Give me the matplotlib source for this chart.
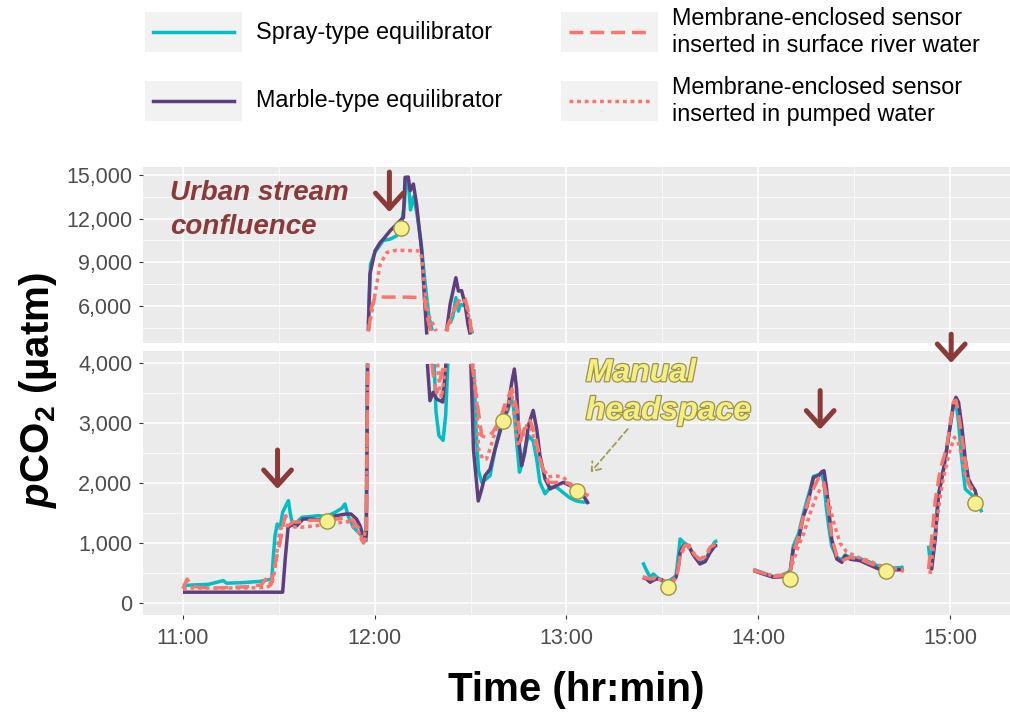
import numpy as np
import matplotlib
matplotlib.use('Agg')
import matplotlib.pyplot as plt
import matplotlib.patheffects as pe
from matplotlib.patches import Rectangle
from matplotlib.lines import Line2D
from matplotlib.ticker import FuncFormatter

plt.rcParams['font.family'] = ['Liberation Sans', 'DejaVu Sans']
plt.rcParams['mathtext.fontset'] = 'custom'
plt.rcParams['mathtext.rm'] = 'Liberation Sans'
plt.rcParams['mathtext.bf'] = 'Liberation Sans:bold'
plt.rcParams['mathtext.it'] = 'Liberation Sans:italic'
plt.rcParams['mathtext.bfit'] = 'Liberation Sans:bold:italic'

nan = np.nan

# time in minutes after 11:00, pCO2 in uatm
spray_t = [0.0, 2.7, 7.9, 12.6, 13.7, 18.9, 24.1, 27.8, 28.3, 28.8, 29.5, 30.4, 31.2, 32.2, 33.0, 33.7,
           34.5, 35.6, 37.2, 39.7, 42.3, 45.0, 47.6, 49.7, 50.7, 51.7, 53.3, 54.9, 56.4, 57.3, 57.7,
           58.0, 58.7, 60.1, 61.7, 62.7, 64.8, 66.8, 68.5, 69.3, 69.8, 70.5, 71.2, 72.1, 73.1, 74.5,
           75.8, 77.0, 78.0, 78.6, 79.2, 80.1, 81.4, 82.2, 82.9, 83.6, 84.5, 85.4, 86.2, 86.8, 88.3,
           89.8, 90.6, 91.0, 91.8, 92.5, 93.5, 94.5, 96.1, 97.7, 99.2, 100.3, 101.8, 102.6, 103.4,
           104.4, 105.3, 106.0, 107.0, 108.1, 109.6, 110.7, 111.7, 113.3, 114.9, 116.9, 119.0, 121.1,
           123.2, 125.3, 126.9, nan,
           143.9, 145.1, 146.2, 147.2, 148.3, 149.8, 151.4, 153.0, 154.3, 155.0, 155.6, 156.6, 158.2,
           159.7, 161.8, 163.4, 165.0, 166.5, 167.2, nan,
           178.5, 181.6, 184.8, 187.9, 190.0, 191.0, 192.6, 194.2, 195.2, 196.3, 197.3, 198.9, 199.9,
           200.6, 201.3, 202.0, 203.0, 204.6, 206.2, 207.2, 208.8, 211.9, 215.0, 218.2, 221.3, 224.4,
           225.5, nan,
           233.3, 233.8, 234.3, 235.4, 236.4, 238.0, 239.0, 240.1, 241.1, 241.9, 242.7, 243.7, 244.8,
           245.8, 246.9, 247.9, 248.9, 250.0]
spray_v = [290, 300, 310, 372, 330, 340, 360, 400, 788, 1122, 1317, 1250, 1512, 1622, 1705, 1455,
           1288, 1345, 1428, 1440, 1455, 1440, 1512, 1578, 1650, 1450, 1262, 1178, 1095, 1038, 3990,
           4720, 8860, 9700, 10200, 10500, 10590, 10810, 11800, 13000, 14700, 14600, 12600, 13500, 12500, 10400,
           7500, 5200, 4300, 3980, 3180, 2790, 2710, 3120, 3990, 4800, 5300, 6570, 5640, 6100, 6000,
           4720, 4100, 3900, 2800, 2200, 2010, 2050, 2120, 2570, 2900, 3050, 3230, 3400, 3300,
           2700, 2180, 2300, 2570, 2790, 2700, 2400, 2010, 1820, 1930, 1930, 1840, 1750,
           1700, 1680, 1690, nan,
           678, 538, 428, 483, 430, 372, 350, 400, 455, 788, 1067, 1012, 955,
           817, 678, 700, 900, 1022, 1040, nan,
           560, 500, 440, 470, 530, 950, 1150, 1500, 1700, 1900, 2110, 2140, 2150,
           2000, 1600, 1300, 950, 760, 720, 800, 760, 740, 680, 600, 580, 590,
           600, nan,
           955, 700, 750, 1150, 1800, 2230, 2567, 2955, 3300, 3350, 3012, 2400, 1900,
           1850, 1800, 1750, 1650, 1512]

marble_t = [0.0, 10.0, 20.0, 31.2, 32.0, 32.9, 34.5, 35.6, 37.6, 40.1, 42.3, 45.0, 47.9, 51.0, 52.6,
            54.3, 55.4, 56.4, 57.0, 57.4, 57.8, 58.0, 58.5, 60.1, 61.7, 62.7, 64.8, 67.9, 69.0, 69.5,
            70.5, 71.1, 72.1, 73.1, 74.7, 75.7, 76.3, 76.5, 77.3, 78.3, 79.4, 81.3, 82.3, 82.5, 83.6,
            85.4, 86.2, 87.2, 88.3, 89.2, 89.9, 90.1, 90.9, 92.4, 93.5, 94.5, 96.1, 97.7, 99.2, 100.3,
            101.8, 102.9, 103.7, 104.4, 105.3, 106.0, 107.0, 108.1, 109.6, 110.7, 111.7, 113.3, 114.9,
            116.9, 119.0, 121.1, 123.2, 125.3, 126.9, nan,
            143.9, 145.1, 146.2, 147.2, 148.3, 149.8, 151.4, 153.0, 154.3, 155.0, 155.6, 156.6, 158.2,
            159.7, 161.8, 163.4, 165.0, 166.5, 167.2, nan,
            178.5, 181.6, 184.8, 187.9, 190.0, 191.0, 192.6, 194.2, 195.2, 196.3, 197.3, 198.9, 199.9,
            200.6, 201.3, 202.0, 203.0, 204.6, 206.2, 207.2, 208.8, 211.9, 215.0, 218.2, 221.3, 224.4,
            225.5, nan,
            233.3, 234.3, 235.4, 236.4, 238.0, 239.0, 240.1, 241.1, 241.9, 242.7, 243.7, 244.8, 245.8,
            246.9, 247.9, 248.9]
marble_v = [180, 180, 180, 180, 733, 1262, 1317, 1288, 1400, 1400, 1388, 1400, 1455, 1483, 1483,
            1400, 1288, 1122, 1050, 1150, 3990, 4260, 8170, 9780, 10360, 10590, 11160, 11850, 12080, 14840,
            14860, 13920, 14380, 13000, 9780, 6100, 4030, 3983, 3372, 3512, 3400, 3350, 3990, 4260, 6100,
            7940, 7020, 7050, 6100, 4720, 4030, 3983, 2570, 1700, 1900, 2120, 2230, 2570, 2850, 3040,
            3290, 3680, 3900, 3570, 2620, 2290, 2510, 2960, 3210, 2900, 2460, 2070, 1900,
            1960, 2010, 1960, 1870, 1790, 1650, nan,
            420, 400, 345, 380, 400, 390, 330, 350, 428, 600, 845, 960, 955,
            800, 650, 690, 845, 955, 960, nan,
            540, 483, 428, 440, 512, 900, 1050, 1455, 1600, 1845, 2095, 2120, 2188,
            2205, 1950, 1622, 1067, 733, 678, 788, 730, 705, 630, 555, 550, 555,
            560, nan,
            622, 567, 1067, 1788, 2233, 2567, 2955, 3317, 3428, 3345, 2955, 2400, 2067,
            1955, 1872, 1650]

surface_t = [0.0, 1.3, 2.7, 5.0, 10.0, 15.0, 20.0, 24.5, 26.5, 27.5, 29.2, 30.4, 31.5, 32.2, 33.2,
             34.5, 37.0, 40.0, 45.0, 48.0, 51.0, 53.0, 55.0, 56.5, 57.4, 57.8, 58.1, 59.0, 60.1, 62.7,
             70.0, 75.5, 76.5, 77.5, 77.9, 78.3, 79.4, 80.8, 81.9, 82.2, 84.5, 86.8, 88.3, 89.8, 90.2,
             90.4, 91.9, 93.5, 95.0, 97.0, 99.2, 101.0, 103.0, 104.6, 105.6, 107.1, 108.6, 110.2, 112.2,
             114.3, 116.3, 118.4, 120.5, 123.6, 126.9, nan,
             143.9, 146.2, 147.7, 149.2, 151.4, 153.0, 154.5, 155.6, 157.0, 158.5, 160.1, 161.8, 163.4,
             165.0, 166.5, nan,
             178.5, 181.6, 184.8, 187.9, 190.0, 191.0, 192.6, 194.2, 196.3, 198.9, 199.9, 200.6, 201.3,
             202.0, 203.0, 204.6, 206.2, 207.2, 208.8, 211.9, 215.0, 218.2, 221.3, 224.4, 225.5, nan,
             233.3, 234.3, 235.4, 237.0, 239.0, 241.1, 241.9, 242.7, 244.3, 245.8, 246.9]
surface_v = [240, 400, 288, 260, 250, 260, 270, 300, 433, 300, 733, 1012, 1345, 1455, 1300,
             1350, 1350, 1380, 1380, 1400, 1420, 1380, 1250, 1000, 1100, 3990, 4260, 5900, 6610, 6610,
             6600, 6570, 5190, 4260, 3990, 3800, 3500, 3800, 3990, 4260, 5500, 6580, 6500, 5200, 4100,
             3990, 3400, 2790, 2750, 2850, 3050, 3350, 3570, 3200, 2700, 2950, 3040, 2800, 2300,
             2010, 2010, 2010, 2000, 1870, 1790, nan,
             440, 400, 420, 380, 350, 350, 420, 800, 960, 960, 800, 730, 790,
             930, 980, nan,
             540, 500, 440, 460, 500, 850, 1100, 1450, 1800, 2080, 2100, 2000, 1800,
             1550, 1100, 780, 700, 730, 760, 730, 660, 600, 560, 560, 520, nan,
             567, 1067, 1700, 2230, 2600, 3350, 3380, 3150, 2567, 2000, 1880]

pumped_t = [0.0, 2.0, 10.0, 20.0, 26.0, 27.8, 28.8, 29.5, 30.4, 32.0, 34.0, 37.0, 42.0, 45.0, 49.0,
            51.5, 53.0, 55.0, 56.4, 57.3, 57.8, 58.2, 60.1, 61.7, 63.8, 66.8, 74.1, 74.7, 75.7, 76.8,
            78.3, 79.3, 79.7, 80.3, 80.9, 81.8, 82.3, 82.6, 84.5, 86.8, 88.3, 89.8, 90.5, 90.7, 91.9,
            92.5, 93.8, 95.0, 96.1, 97.7, 99.2, 101.3, 102.9, 103.9, 104.9, 106.5, 107.6, 109.1, 110.7,
            112.2, 114.3, 116.3, 118.9, 121.1, 124.2, 126.9, nan,
            143.9, 146.2, 147.7, 149.2, 151.4, 153.0, 154.5, 155.6, 157.0, 158.5, 160.1, 161.8, 163.4,
            165.0, 166.5, nan,
            178.5, 181.6, 184.8, 187.9, 190.0, 191.0, 192.6, 194.2, 196.3, 198.0, 199.4, 200.6, 201.8,
            203.6, 205.6, 207.7, 209.8, 211.9, 215.0, 218.2, 221.3, 224.4, 225.5, nan,
            233.8, 234.5, 235.5, 236.7, 238.0, 239.8, 241.4, 242.4, 243.5, 244.6, 246.1, 247.7]
pumped_v = [233, 250, 250, 250, 260, 300, 567, 900, 1233, 1300, 1270, 1262, 1290, 1317, 1340,
            1360, 1290, 1180, 983, 1300, 3990, 4520, 6790, 8860, 9670, 9830, 9780, 9340, 7020, 5410,
            4720, 4260, 3990, 3600, 3417, 3800, 3990, 4260, 5700, 6500, 6300, 5000, 4100, 3990, 3400,
            2570, 2400, 2400, 2570, 2850, 3100, 3230, 3510, 3000, 2620, 2800, 2960, 2900, 2570,
            2290, 2100, 2120, 2100, 1990, 1870, 1800, nan,
            420, 410, 400, 390, 360, 360, 440, 790, 920, 930, 810, 710, 770,
            910, 990, nan,
            560, 500, 450, 480, 520, 700, 950, 1150, 1500, 1750, 1900, 1955, 1750,
            1350, 1000, 850, 800, 750, 700, 620, 580, 560, 560, nan,
            483, 800, 1200, 1678, 2100, 2500, 2762, 2710, 2500, 2178, 1950, 1880]

# manual headspace samples
headspace_t = [45.0, 68.1, 100.0, 123.2, 151.9, 190.0, 219.9, 247.9]
headspace_v = [1372, 11345, 3040, 1872, 262, 400, 539, 1667]

# arrows marking stream confluences: time, tail value, tip value, panel
arrow_t = [64.6, 29.6, 199.4, 240.4]
arrow_from = [15200, 2550, 3540, 4480]
arrow_to = [12450, 1900, 2890, 4000]
arrow_panel = ['top', 'bottom', 'bottom', 'bottom']

hour_ticks = [0, 60, 120, 180, 240]
hour_labels = ['11:00', '12:00', '13:00', '14:00', '15:00']
top_ticks = [6000, 9000, 12000, 15000]
bottom_ticks = [0, 1000, 2000, 3000, 4000]

series = [
    ('Spray-type equilibrator', spray_t, spray_v, '#00BFC4', '-'),
    ('Marble-type equilibrator', marble_t, marble_v, '#5E3F7D', '-'),
    ('Membrane-enclosed sensor\ninserted in surface river water', surface_t, surface_v, '#F8766D', (0, (4, 2))),
    ('Membrane-enclosed sensor\ninserted in pumped water', pumped_t, pumped_v, '#F8766D', (0, (1.1, 1.1))),
]

arrow_col = '#8B3A3A'
W, H = 1010, 714


def fx(px):
    return px / W


def fy(py):
    return 1 - py / H


fig = plt.figure(figsize=(10.1, 7.14), dpi=100)
ax_top = fig.add_axes([fx(143), fy(343), fx(1010) - fx(143), fy(167) - fy(343)])
ax_bot = fig.add_axes([fx(143), fy(615), fx(1010) - fx(143), fy(351) - fy(615)])

limits = {'top': (4000, 15000, (3450, 15550)), 'bottom': (0, 4000, (-200, 4200))}
axes = {'top': ax_top, 'bottom': ax_bot}

for key, ax in axes.items():
    lo, hi, ylim = limits[key]
    ax.set_facecolor('#EBEBEB')
    for s in ax.spines.values():
        s.set_visible(False)
    ax.set_xlim(-12.5, 258.8)
    ax.set_ylim(*ylim)
    ax.set_xticks(hour_ticks)
    ax.set_xticks([30, 90, 150, 210], minor=True)
    if key == 'top':
        ax.set_yticks(top_ticks)
        ax.set_yticks([4500, 7500, 10500, 13500], minor=True)
        ax.tick_params(axis='x', which='both', bottom=False, labelbottom=False)
    else:
        ax.set_yticks(bottom_ticks)
        ax.set_yticks([500, 1500, 2500, 3500], minor=True)
        ax.set_xticklabels(hour_labels)
    ax.yaxis.set_major_formatter(FuncFormatter(lambda v, p: f'{int(v):,}'))
    ax.tick_params(which='major', length=3, width=0.8, color='#333333', labelcolor='#4D4D4D',
                   labelsize=15.5, pad=4.5)
    ax.tick_params(axis='x', which='major', pad=6)
    ax.tick_params(which='minor', length=0)
    ax.grid(which='major', color='white', lw=1.1)
    ax.grid(which='minor', color='white', lw=0.5)
    ax.set_axisbelow(True)

    for name, t, v, col, ls in series:
        v = np.array(v, dtype=float)
        vv = np.where((v >= lo) & (v <= hi), v, np.nan)
        ax.plot(t, vv, color=col, lw=2.5, ls=ls, solid_capstyle='butt')

    pv = np.array(headspace_v, dtype=float)
    pv = np.where((pv >= lo) & (pv <= hi), pv, np.nan)
    ax.plot(headspace_t, pv, 'o', ms=11, mfc='#F8F08C', mec='#9C9442', mew=1, zorder=5)

for t, a, b, panel in zip(arrow_t, arrow_from, arrow_to, arrow_panel):
    axes[panel].annotate('', xy=(t, b), xytext=(t, a), annotation_clip=False,
                         arrowprops=dict(arrowstyle='->,head_length=0.55,head_width=0.5',
                                         lw=3.6, color=arrow_col, shrinkA=0, shrinkB=0,
                                         mutation_scale=20))

ax_top.text(-4.1, 14650, 'Urban stream\nconfluence', color=arrow_col, fontsize=20,
            fontweight='bold', fontstyle='italic', ha='left', va='top', linespacing=1.4)

ax_bot.text(126.1, 4080, 'Manual\nheadspace', color='#F5EE84', fontsize=23,
            fontweight='bold', fontstyle='italic', ha='left', va='top', linespacing=1.35,
            path_effects=[pe.withStroke(linewidth=1.8, foreground='#9C9442')])
ax_bot.annotate('', xy=(127.6, 2180), xytext=(139.2, 2900),
                arrowprops=dict(arrowstyle='->,head_length=0.4,head_width=0.3', lw=1.3,
                                ls=(0, (3, 2)), color='#A39D50', shrinkA=0, shrinkB=0,
                                mutation_scale=14))

ax_bot.set_xlabel('Time (hr:min)', fontsize=29, fontweight='bold', labelpad=16)
fig.text(fx(38), fy(390), r'$\mathbfit{p}\mathbf{CO_2}$ (µatm)', rotation=90, fontsize=29,
         fontweight='bold', ha='center', va='center')

# legend
key_x = [145, 561]
key_y = [32, 101]
for i, (name, t, v, col, ls) in enumerate(series):
    kx = key_x[i // 2]
    ky = key_y[i % 2]
    fig.add_artist(Rectangle((fx(kx), fy(ky + 20)), fx(97), 40 / H, transform=fig.transFigure,
                             facecolor='#F2F2F2', edgecolor='none'))
    fig.add_artist(Line2D([fx(kx + 8), fx(kx + 89)], [fy(ky), fy(ky)], transform=fig.transFigure,
                          color=col, lw=2.5, ls=ls))
    fig.text(fx(kx + 111), fy(ky), name, fontsize=16.8, color='black', ha='left', va='center',
             linespacing=1.25)

fig.savefig('out.png', dpi=100)
